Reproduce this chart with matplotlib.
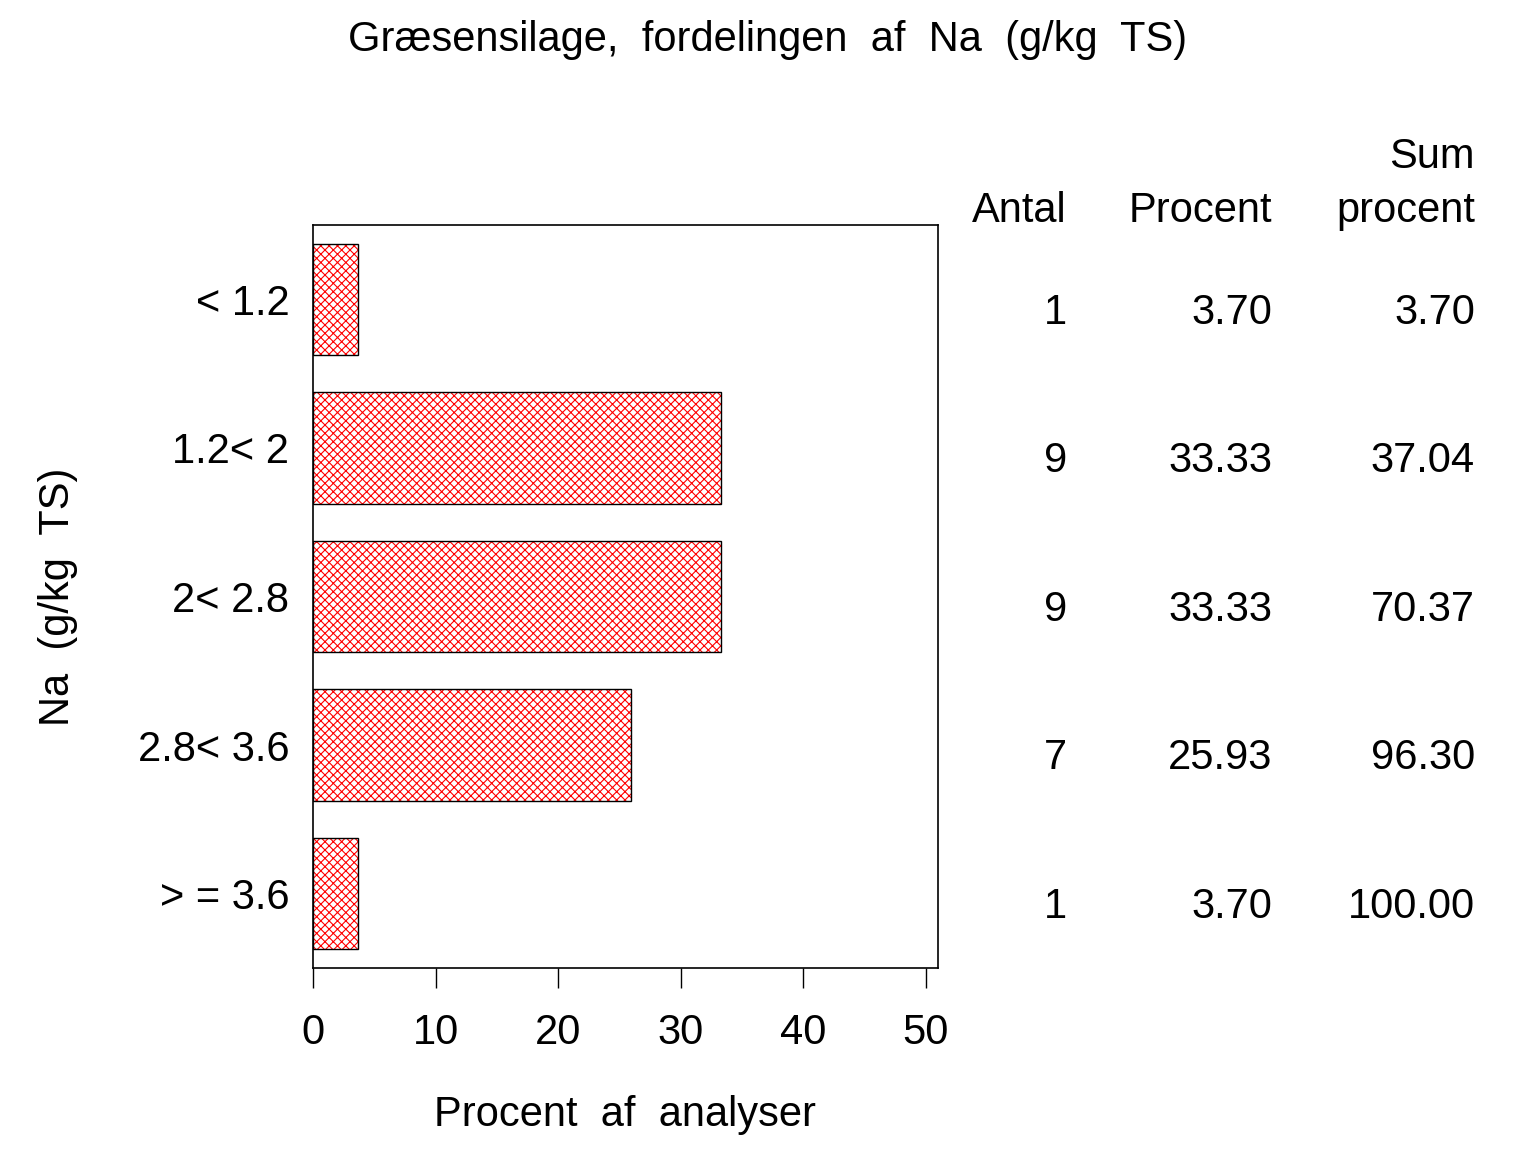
import matplotlib
matplotlib.use("Agg")
import matplotlib.pyplot as plt
import matplotlib.transforms as mtransforms

# ── data ──────────────────────────────────────────────────────────────────────
categories = ["< 1.2", "1.2< 2", "2< 2.8", "2.8< 3.6", "> = 3.6"]
antal = [1, 9, 9, 7, 1]
procent = [3.70, 33.33, 33.33, 25.93, 3.70]
sum_procent = [3.70, 37.04, 70.37, 96.30, 100.00]
x_ticks = [0, 10, 20, 30, 40, 50]

# ── style ─────────────────────────────────────────────────────────────────────
plt.rcParams["font.family"] = ["Liberation Sans", "DejaVu Sans"]
plt.rcParams["hatch.linewidth"] = 0.8
FS = 30

fig = plt.figure(figsize=(15.36, 11.52), dpi=100)
ax = fig.add_axes([313 / 1536, 1 - 968 / 1152, 625 / 1536, 743 / 1152])

ypos = list(range(len(categories)))

# hatch in red, outline in black (two passes)
ax.barh(ypos, procent, height=0.75, color="white", edgecolor="red",
        hatch="xxxx", linewidth=0, zorder=2)
ax.barh(ypos, procent, height=0.75, fill=False, edgecolor="black",
        linewidth=1.0, zorder=3)

ax.set_xlim(0, 51)
ax.set_ylim(4.5, -0.5)
ax.set_xticks(x_ticks)
ax.set_xticklabels([str(t) for t in x_ticks], fontsize=FS)
ax.set_yticks(ypos)
ax.set_yticklabels(categories, fontsize=FS)
ax.tick_params(axis="x", direction="out", length=14.5, width=1.0, pad=18)
ax.tick_params(axis="y", length=0, pad=17)
for sp in ax.spines.values():
    sp.set_linewidth(1.2)

ax.set_xlabel("Procent  af  analyser", fontsize=FS, labelpad=30)
ax.set_ylabel("Na  (g/kg  TS)", fontsize=FS, labelpad=43)

fig.text(0.5, 0.965, "Græsensilage,  fordelingen  af  Na  (g/kg  TS)",
         ha="center", va="center", fontsize=FS)

# ── table at the right ────────────────────────────────────────────────────────
col_x = [1067 / 1536, 1272 / 1536, 1475 / 1536]
trans = mtransforms.blended_transform_factory(fig.transFigure, ax.transData)

fig.text(col_x[2], 1 - 157 / 1152, "Sum", ha="right", va="center", fontsize=FS)
for cx, head in zip(col_x, ["Antal", "Procent", "procent"]):
    fig.text(cx, 1 - 211 / 1152, head, ha="right", va="center", fontsize=FS)

for i in ypos:
    vals = [f"{antal[i]}", f"{procent[i]:.2f}", f"{sum_procent[i]:.2f}"]
    for cx, v in zip(col_x, vals):
        ax.text(cx, i + 0.09, v, transform=trans, ha="right", va="center",
                fontsize=FS, clip_on=False)

fig.savefig("out.png", dpi=100, facecolor="white")
